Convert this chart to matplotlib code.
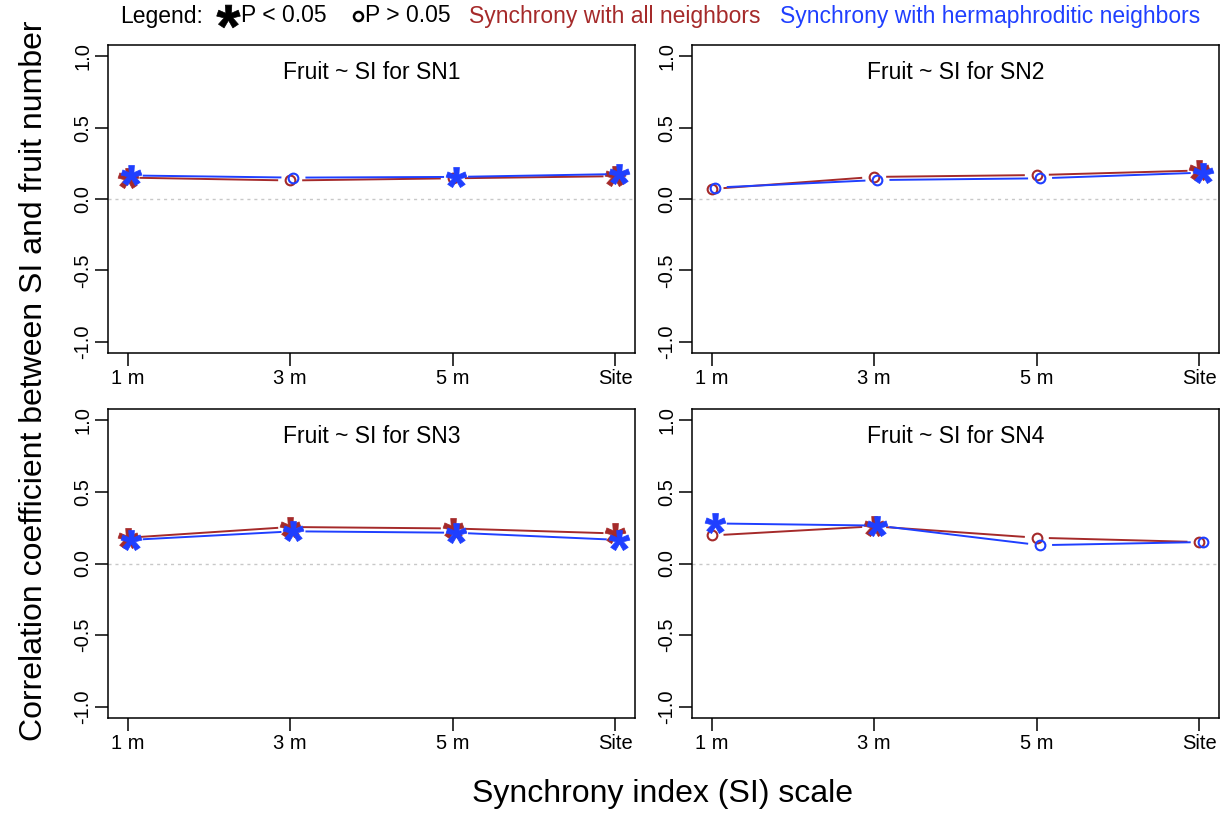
import numpy as np
import matplotlib
matplotlib.use("Agg")
import matplotlib.pyplot as plt
from matplotlib.lines import Line2D
from matplotlib.path import Path
from matplotlib.textpath import TextPath
from matplotlib.font_manager import FontProperties

plt.rcParams["font.family"] = ["Liberation Sans", "DejaVu Sans"]
plt.rcParams["axes.unicode_minus"] = False

# x axis categories
scales = ["1 m", "3 m", "5 m", "Site"]

# correlation coefficients
all_sn1 = [0.15, 0.13, 0.145, 0.16]
herm_sn1 = [0.165, 0.15, 0.155, 0.175]
all_sn2 = [0.07, 0.155, 0.168, 0.20]
herm_sn2 = [0.08, 0.133, 0.145, 0.185]
all_sn3 = [0.18, 0.255, 0.245, 0.21]
herm_sn3 = [0.165, 0.225, 0.215, 0.165]
all_sn4 = [0.196, 0.26, 0.18, 0.15]
herm_sn4 = [0.28, 0.265, 0.128, 0.15]

# P < 0.05 ?
sig_all_sn1 = [True, False, False, True]
sig_herm_sn1 = [True, False, True, True]
sig_all_sn2 = [False, False, False, True]
sig_herm_sn2 = [False, False, False, True]
sig_all_sn3 = [True, True, True, True]
sig_herm_sn3 = [True, True, True, True]
sig_all_sn4 = [False, True, False, False]
sig_herm_sn4 = [True, True, False, False]

panels = [
    ("SN1", all_sn1, herm_sn1, sig_all_sn1, sig_herm_sn1),
    ("SN2", all_sn2, herm_sn2, sig_all_sn2, sig_herm_sn2),
    ("SN3", all_sn3, herm_sn3, sig_all_sn3, sig_herm_sn3),
    ("SN4", all_sn4, herm_sn4, sig_all_sn4, sig_herm_sn4),
]

RED = "#a52a2a"
BLUE = "#1f3fff"
GAP = 12  # px gap between line ends and points (R type="b")

# asterisk marker built from the glyph, centred (ignore closepoly dummy vertices)
tp = TextPath((0, 0), "*", prop=FontProperties(family="Liberation Sans", weight="bold"))
v = tp.vertices.copy()
real = tp.codes != Path.CLOSEPOLY
centre = (v[real].min(axis=0) + v[real].max(axis=0)) / 2
v -= centre
v[~real] = v[real][0]
star = Path(v, tp.codes)


def draw_b(ax, x, y, sig, color):
    pts = ax.transData.transform(np.column_stack([x, y]))
    inv = ax.transData.inverted()
    for p0, p1 in zip(pts[:-1], pts[1:]):
        d = p1 - p0
        L = np.hypot(*d)
        if L <= 2 * GAP:
            continue
        u = d / L
        a = inv.transform(p0 + u * GAP)
        b = inv.transform(p1 - u * GAP)
        ax.plot([a[0], b[0]], [a[1], b[1]], color=color, lw=1.4, solid_capstyle="butt")
    for xi, yi, s in zip(x, y, sig):
        if s:
            ax.plot(xi, yi, marker=star, ms=15, color=color, mew=0.5, linestyle="none")
        else:
            ax.plot(xi, yi, marker="o", ms=7, mfc="none", mec=color, mew=1.5, linestyle="none")


fig = plt.figure(figsize=(12.25, 8.15), dpi=100)
W, H = 1225, 815
# axes boxes in pixels: left, top, right, bottom
boxes = [(108, 45, 635, 353), (692, 45, 1219, 353),
         (108, 409, 635, 718), (692, 409, 1219, 718)]

x = np.arange(1, 5)
for (name, r_all, r_herm, s_all, s_herm), (l, t, r, b) in zip(panels, boxes):
    ax = fig.add_axes([l / W, (H - b) / H, (r - l) / W, (b - t) / H])
    ax.set_xlim(0.88, 4.12)
    ax.set_ylim(-1.08, 1.08)
    ax.set_xticks(x)
    ax.set_xticklabels(scales)
    ax.set_yticks([-1, -0.5, 0, 0.5, 1])
    ax.set_yticklabels(["-1.0", "-0.5", "0.0", "0.5", "1.0"], rotation=90, va="center")
    ax.tick_params(length=9.4, width=1.1, labelsize=14.5, pad=2)
    for sp in ax.spines.values():
        sp.set_linewidth(1.1)
    ax.axhline(0, color="#c8c8c8", lw=1, linestyle=(0, (2.2, 2.8)))
    ax.text(0.5, 0.912, f"Fruit ~ SI for {name}", transform=ax.transAxes,
            ha="center", va="center", fontsize=16.5)
    draw_b(ax, x, r_all, s_all, RED)
    draw_b(ax, x + 0.02, r_herm, s_herm, BLUE)

# legend strip along the top
ly = 1 - 16 / H
fig.text(120 / W, ly, "Legend:", ha="left", va="center", fontsize=16.5)
fig.add_artist(Line2D([228 / W], [ly], marker=star, ms=17, color="black",
                      mew=0.5, linestyle="none", transform=fig.transFigure))
fig.text(241 / W, ly, "P < 0.05", ha="left", va="center", fontsize=16.5)
fig.add_artist(Line2D([358 / W], [ly], marker="o", ms=6.5, mfc="none", mec="black",
                      mew=1.8, linestyle="none", transform=fig.transFigure))
fig.text(365 / W, ly, "P > 0.05", ha="left", va="center", fontsize=16.5)
fig.text(469 / W, ly, "Synchrony with all neighbors", ha="left", va="center",
         fontsize=16.5, color=RED)
fig.text(780 / W, ly, "Synchrony with hermaphroditic neighbors", ha="left", va="center",
         fontsize=16.5, color=BLUE)

fig.text(0.541, 0.026, "Synchrony index (SI) scale", ha="center", va="center", fontsize=23)
fig.text(0.028, 0.5325, "Correlation coefficient between SI and fruit number",
         ha="center", va="center", rotation=90, fontsize=23)

fig.savefig("out.png", dpi=100)
